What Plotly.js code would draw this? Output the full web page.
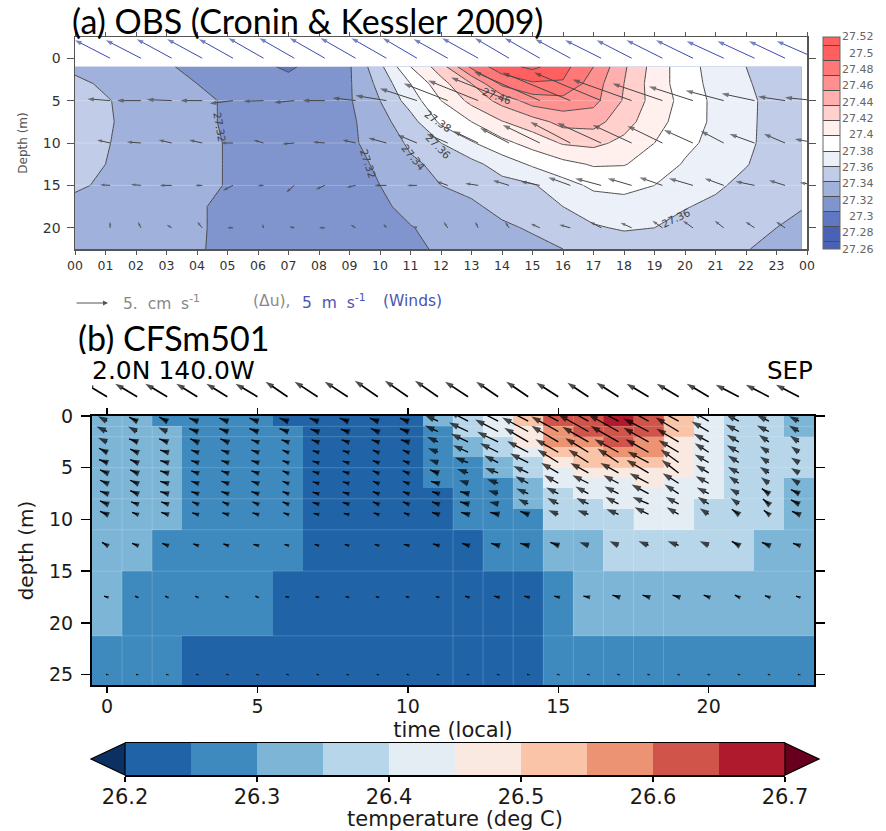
<!DOCTYPE html>
<html><head><meta charset="utf-8">
<script src="https://cdn.plot.ly/plotly-3.0.1.min.js"></script>
<style>html,body{margin:0;padding:0;background:#fff}#chart{width:886px;height:831px}</style>
</head><body><div id="chart"></div>
<script>
const W=886,H=831;
/* ---------- panel (a) data ---------- */
const hoursA=[0,1,2,3,4,5,6,7,8,9,10,11,12,13,14,15,16,17,18,19,20,21,22,23,23.83];
const depthsA=[1,3,5,7.5,10,12.5,15,17.5,20,22.5];
const tempA=[
[27.337,27.332,27.328,27.322,27.315,27.308,27.303,27.298,27.305,27.318,27.355,27.400,27.430,27.485,27.512,27.525,27.507,27.480,27.443,27.412,27.388,27.372,27.360,27.352,27.348],
[27.343,27.338,27.332,27.327,27.320,27.313,27.307,27.304,27.306,27.318,27.346,27.380,27.413,27.440,27.485,27.497,27.498,27.470,27.440,27.410,27.390,27.373,27.362,27.352,27.347],
[27.345,27.341,27.336,27.331,27.324,27.318,27.312,27.309,27.310,27.318,27.340,27.369,27.400,27.426,27.447,27.470,27.473,27.466,27.438,27.412,27.393,27.375,27.365,27.352,27.346],
[27.346,27.342,27.335,27.329,27.324,27.318,27.311,27.308,27.309,27.316,27.333,27.352,27.384,27.400,27.419,27.431,27.447,27.448,27.428,27.408,27.390,27.376,27.364,27.353,27.347],
[27.345,27.341,27.335,27.330,27.325,27.319,27.312,27.309,27.310,27.316,27.329,27.343,27.360,27.378,27.394,27.408,27.422,27.425,27.415,27.400,27.385,27.374,27.364,27.352,27.346],
[27.344,27.340,27.334,27.330,27.325,27.319,27.313,27.309,27.309,27.314,27.323,27.337,27.344,27.354,27.369,27.383,27.394,27.402,27.401,27.392,27.378,27.368,27.361,27.351,27.345],
[27.342,27.338,27.333,27.329,27.325,27.319,27.314,27.310,27.309,27.312,27.320,27.331,27.340,27.345,27.353,27.358,27.372,27.384,27.386,27.380,27.370,27.363,27.355,27.347,27.343],
[27.336,27.333,27.330,27.326,27.322,27.316,27.312,27.310,27.309,27.310,27.316,27.326,27.333,27.337,27.345,27.352,27.360,27.369,27.372,27.368,27.361,27.356,27.349,27.343,27.341],
[27.333,27.331,27.328,27.325,27.322,27.316,27.312,27.310,27.309,27.309,27.313,27.319,27.326,27.332,27.337,27.342,27.350,27.358,27.362,27.360,27.354,27.349,27.345,27.340,27.335],
[27.330,27.329,27.327,27.324,27.322,27.315,27.311,27.309,27.308,27.309,27.312,27.317,27.322,27.326,27.331,27.335,27.340,27.346,27.349,27.349,27.346,27.344,27.341,27.334,27.330]];
const bandColorsA=['#4a62b5','#4a62b5','#5f78c1','#8095ce','#a0b2dc','#c1cde8','#ebf0f9','#ffffff','#fff0ee','#ffd0cc','#ffb0ae','#ff9090','#ff7878','#ff5f5f','#ff5f5f'];
const legendLabelsA=['27.26','27.28','27.3','27.32','27.34','27.36','27.38','27.4','27.42','27.44','27.46','27.48','27.5','27.52'];
const contourLabels=[
 {t:'27.32',h:4.75,d:8.1,a:80},{t:'27.32',h:9.6,d:12.4,a:72},{t:'27.34',h:11.1,d:11.6,a:50},
 {t:'27.36',h:11.9,d:10.4,a:45},{t:'27.38',h:11.9,d:7.4,a:35},{t:'27.46',h:13.85,d:4.4,a:20},{t:'27.36',h:19.7,d:18.9,a:-25}];
const arrowHoursA=[1.15,2.16,3.17,4.17,5.18,6.18,7.19,8.19,9.2,10.21,11.21,12.22,13.22,14.23,15.24,16.24,17.25,18.25,19.26,20.26,21.27,22.28,23.28,24.29];
const arrowDepthsA=[5,10,15,20];
const gridDepthsA=[5,10,15];
/* leftward / upward lengths of the current arrows per depth row */
const curLeftA=[
[22.7,24,25,21.7,23.3,20,20,22,23,31,37,44,50,58,66,68,67,59,50,44,38,33,27,31],
[13,14,13,13,12,10,12,12,13,18,19,21,25,29,37,40,44,39,35,29,23,25,21,21],
[10,10,12,7,10,6,8,9,9,12,10,11,13,16,19,22,26,24,23,24,19,19,16,16],
[0,3,5,5,6,1,5,6,5,3,3,4,3,4,9,11,11,11,10,10,9,9,9,0]];
const curUpA=[
[1.7,0,1,0,-3,-0.7,-2,0,2.7,5,12,17,20,23,29,28,28,21,17,14,10,7,4,3],
[3,1,3,3,0,3,-1,1,3,5,8,9,12,15,18,21,20,18,17,13,12,9,9,4],
[0.7,1,0,0,-5,0,-7,-4,-2,0,0,4,2,5,4,8,7,7,8,7,7,4,5,3],
[6,6,3,6,0,4,1,0,3,4,2,6,6,6,4,3,6,5,7,7,7,6,6,0]];
const windLeftA=[35,35,35,35,34,35,35,35,35,35,34,34,36,34,35,35,36,35,36,37,37,37,36,39];
const windUpA=[18,18,19,19,19,20,20,20,20,20,20,19,20,20,20,19,18,18,18,18,17,17,17,17];

/* ---------- panel (b) data ---------- */
const hourEdgesB=[-0.5,0.5,1.5,2.5,3.5,4.5,5.5,6.5,7.5,8.5,9.5,10.5,11.5,12.5,13.5,14.5,15.5,16.5,17.5,18.5,19.5,20.5,21.5,22.5,23.5];
const depthEdgesB=[0,1,2,3,4,5,6,7,8,9,10,11,15,21.25,26];
const faintHoursB=[0.5,1.5,11.5,12.5,13.5,14.5,15.5,16.5,17.5,18.5];
const faintDepthsB=[1,2,5,8,11,15,21.25];
const binTemps=[26.225,26.275,26.325,26.375,26.425,26.475,26.525,26.575,26.625,26.675];
const binColors=['#2064a7','#3e89bd','#7db5d7','#b7d6e9','#e4edf4','#fae9e1','#f9c4a8','#ec9373','#d0544a','#af1a2c'];
const tempBins=[
[2,2,1,1,1,1,0,0,0,0,0,2,3,4,6,8,8,9,8,6,4,3,3,2],
[2,2,2,1,1,1,1,0,0,0,0,1,3,4,5,7,8,8,8,6,4,3,3,2],
[2,2,2,1,1,1,1,0,0,0,0,1,2,3,5,7,7,8,7,5,4,3,3,3],
[2,2,2,1,1,1,1,0,0,0,0,1,2,3,4,6,6,7,7,5,4,3,3,3],
[2,2,2,1,1,1,1,0,0,0,0,1,1,2,3,5,6,6,6,5,4,3,3,3],
[2,2,2,1,1,1,1,0,0,0,0,1,1,2,3,4,5,5,5,5,4,3,3,3],
[2,2,2,1,1,1,1,0,0,0,0,1,1,1,2,4,4,4,5,4,4,3,3,2],
[2,2,2,1,1,1,1,0,0,0,0,0,1,1,2,3,4,4,4,4,4,3,3,2],
[2,2,2,1,1,1,1,0,0,0,0,0,1,1,2,3,3,4,4,4,3,3,3,2],
[2,2,2,1,1,1,1,0,0,0,0,0,1,1,1,3,3,3,4,4,3,3,3,2],
[2,2,2,1,1,1,1,0,0,0,0,0,1,1,1,3,3,3,4,4,3,3,3,2],
[2,2,1,1,1,1,1,0,0,0,0,0,0,1,1,2,2,3,3,3,3,3,2,2],
[2,1,1,1,1,1,0,0,0,0,0,0,0,0,0,1,2,2,2,2,2,2,2,2],
[1,1,1,0,0,0,0,0,0,0,0,0,0,0,0,1,1,1,1,1,1,1,1,1]];
const hoursB=[0,1,2,3,4,5,6,7,8,9,10,11,12,13,14,15,16,17,18,19,20,21,22,23];
const arrowDepthsB=[0.5,1.5,2.5,3.5,4.5,5.5,6.5,7.5,8.5,9.5,12.5,17.5,25];
const curLeftB=[
[9,8,8,8,8,8,8,8,8,8,8,13,19,23,27,30,31,32,27,24,17,13,12,10],
[10.5,9,9,8,8,8,8,7,7,7,8,13,19,23,26,27,30,30,25,23,17,13,12,10],
[9,8,8,7,7,6,6,6,6,6,7,11,17,21,24,27,26,28,25,22,15,12,10,9],
[8,7,7,6,6,6,5,5,5,5,5,10,15,18,21,23,23,24,23,20,14,12,9,8],
[8,7,7,6,6,6,5,5,5,5,5,9,13,14,18,21,20,21,21,18,14,11,9,8],
[7,7,7,6,6,6,5,5,5,5,5,8,11,13,15,17,18,18,22,17,13,11,9,8],
[7,7,7,6,6,6,5,5,5,5,5,7,9,11,13,14,16,15,19,16,13,10,8,8],
[7,7,7,6,6,6,5,5,5,5,5,6,8,10,12,12,13,14,17,14,12,9,7,8],
[7,6,6,5,5,5,5,5,5,5,5,6,8,9,10,11,12,13,16,13,11,8,6,8],
[7,5,6,5,5,5,4,4,4,4,4,6,7,8,8,10,11,12,14,12,9,7,5,7],
[5,5,5,4,4,4,3,3,3,3,4,5,6,7,8,8,9,9,10,11,9,7,7,6],
[3,2,2,2,2,2,2,2,2,2,2,2,3,4,4,4,5,6,6,6,5,4,4,3],
[1,1,1,1,1,1,1,1,1,1,1,1,1,1,1,1,1,1,1,1,1,1,1,1]];
const curUpB=[
[5,4,4,3,3,3,3,3,3,3,3,6,10,12,14,16,17,17,15,13,10,7,6,5],
[5,5,4,3,3,3,3,2.5,2.5,3,3,6,9,12,14,15,17,17,13,14,10,7,6,6],
[4,3,3,3,3,2,2,2,2,2,2,5,8,10,14,16,15,16,14,13,8,7,7,6],
[4,3,2,2,2,2,2,1.5,1.5,2,2,4,7,9,11,13,14,13,13,12,9,7,6,6],
[3,3,2,2,2,2,2,1.5,1.5,2,2,3,5,7,9,13,13,14,11,13,8,7,6,5],
[3,3,2,2,2,2,2,1.5,1.5,2,2,3,4,5,7,10,10,10,13,13,8,6,6,5],
[3,3,2,2,2,2,2,1.5,1.5,2,2,2,3,4,7,8,8,8,10,10,7,7,6,5],
[2.5,3,2,2,2,2,2,1.5,1.5,2,2,2,2,3,5,6,7,7,9,9,6,5,5,4],
[3,2,2,2,2,2,2,1.5,1.5,2,2,2,2,2,5,6,6,7,7,7,7,6,5,4],
[3,2,2,1.5,1.5,1.5,1.5,1,1,1.5,1.5,2,2,2,3,4,4,5,7,7,6,5,4,3],
[3,2,2,1.5,1.5,1,1,1,1,1,1,1.5,2,2,2,3,3,4,4,4,4,4,3,2],
[1,1,1,1,1,1,0.5,0.5,0.5,0.5,0.5,0.5,1,1,1,1,1,2,2,2,2,2,1.5,1],
[0.3,0.3,0.3,0.3,0.3,0.3,0.3,0.3,0.3,0.3,0.3,0.3,0.3,0.3,0.3,0.3,0.3,0.3,0.3,0.3,0.3,0.3,0.3,0.3]];
const windLeftB=[22,22,22,21,21,22,22,23,23,23,23,23,23,22,22,22,21,22,22,22,22,23,23,23];
const windUpB=[13,13,13,13,13,13,15,15,15,16,16,16,15,15,15,14,14,14,13,13,13,12,12,12];
const cbEdges=[26.2,26.25,26.3,26.35,26.4,26.45,26.5,26.55,26.6,26.65,26.7];
const cbTicks=[26.2,26.3,26.4,26.5,26.6,26.7];
const underColor='#0a3162',overColor='#67001f';

/* ---------- helpers ---------- */
const pxX=(a,b)=>[a/W,b/W], pxY=(top,bot)=>[1-bot/H,1-top/H];
const pA=30.5,pAy=8.47,pB=30.08,pBy=10.35;
function quiver(xAxis,yAxis,rows,sx,sy,color,width,sizeFn,clip){
  const x=[],y=[],size=[];
  rows.forEach(a=>{
    if(!a.l&&!a.u)return;
    x.push(a.x,a.x-a.l/sx,null);
    y.push(a.y,a.y-a.u/sy,null);
    size.push(0,sizeFn(Math.hypot(a.l,a.u)),0);
  });
  return {type:'scatter',mode:'lines+markers',x,y,xaxis:xAxis,yaxis:yAxis,cliponaxis:clip,showlegend:false,hoverinfo:'skip',
    line:{color,width},marker:{symbol:'arrow',angleref:'previous',size,color,line:{width:0}}};
}
const rowsOf=(xs,ds,L,U)=>{const o=[];ds.forEach((d,r)=>xs.forEach((h,c)=>o.push({x:h,y:d,l:L[r][c],u:U[r][c]})));return o;};
const ann=[];
contourLabels.forEach(l=>ann.push({xref:'x',yref:'y',x:l.h,y:l.d,text:l.t,showarrow:false,textangle:l.a,
  font:{family:'DejaVu Sans',size:10.5,color:'#444'}}));
legendLabelsA.forEach((t,i)=>ann.push({xref:'paper',yref:'paper',x:876/W,xanchor:'right',y:1-(249-i*16.31)/H,yanchor:'middle',
  text:t,showarrow:false,font:{family:'DejaVu Sans',size:11,color:'#666'}}));
function label(t,xp,yp,font,anchor,h){const a={xref:'paper',yref:'paper',x:xp/W,y:1-yp/H,xanchor:anchor||'left',yanchor:'middle',text:t,showarrow:false,font:font};if(h)a.height=h;ann.push(a);}
label('(a) OBS (Cronin &amp; Kessler 2009)',70,20,{family:'Lato',size:34,color:'#000'});
label('(b) CFSm501',76,338,{family:'Lato',size:34,color:'#000'},'left',33);
label('2.0N 140.0W',90,370,{family:'DejaVu Sans',size:25,color:'#000'},'left',24);
label('SEP',815,370,{family:'DejaVu Sans',size:24.5,color:'#000'},'right',24);
const capG={family:'DejaVu Sans',size:15.5,color:'#888'},capB={family:'DejaVu Sans',size:15.5,color:'#4a55b0'};
label('5.\u00a0\u00a0cm\u00a0\u00a0s<sup>-1</sup>',121,302,capG);
label('(Δu),',251,301,capG);
label('5\u00a0\u00a0m\u00a0\u00a0s<sup>-1</sup>',300,301,capB);
label('(Winds)',381,301,capB);
ann.push({xref:'paper',yref:'paper',x:108/W,y:1-303/H,ax:-33,ay:0,text:'',showarrow:true,arrowhead:2,arrowsize:1,arrowwidth:1,arrowcolor:'#555',standoff:0});

const stepScale=[];binColors.forEach((c,i)=>{stepScale.push([i/10,c]);stepScale.push([(i+1)/10,c]);});
const contourScale=bandColorsA.map((c,i)=>[i/14,c]);
const zB=tempBins.map(r=>r.map(i=>binTemps[i]));
const faint=(xs,ys)=>{const x=[],y=[];xs.forEach(v=>{x.push(v,v,null);y.push(ys[0],ys[1],null);});return [x,y];};
const [vx,vy]=faint(faintHoursB,[0,26]);
const [hy,hx]=faint(faintDepthsB,[-0.5,23.5]);
const [hya,hxa]=faint(gridDepthsA,[0,23.83]);

const traces=[
 {type:'contour',x:hoursA,y:depthsA,z:tempA,xaxis:'x',yaxis:'y',autocontour:false,
  contours:{start:27.26,end:27.52,size:0.02,coloring:'fill',showlines:true},
  line:{color:'#4d4d4d',width:1,smoothing:0},colorscale:contourScale,hoverinfo:'skip',
  colorbar:{x:823/W,xanchor:'left',xpad:0,ypad:0,thickness:17,thicknessmode:'pixels',len:212/H,lenmode:'fraction',y:1-249/H,yanchor:'bottom',
    outlinecolor:'#666',outlinewidth:1,showticklabels:false,ticks:''}},
 {type:'scatter',mode:'lines',x:hxa,y:hya,xaxis:'x',yaxis:'y',line:{color:'rgba(255,255,255,0.25)',width:1},showlegend:false,hoverinfo:'skip'},
 quiver('x','y',rowsOf(arrowHoursA,arrowDepthsA,curLeftA,curUpA),pA,pAy,'#454545',1,m=>Math.min(7.5,3+m/6),false),
 quiver('x','y',arrowHoursA.map((h,c)=>({x:h,y:0,l:windLeftA[c],u:windUpA[c]})),pA,pAy,'#3c4bb0',1,()=>7,false),
 {type:'heatmap',x:hourEdgesB,y:depthEdgesB,z:zB,xaxis:'x2',yaxis:'y2',zmin:26.2,zmax:26.7,colorscale:stepScale,showscale:false,hoverinfo:'skip'},
 {type:'scatter',mode:'lines',x:vx.concat(hx),y:vy.concat(hy),xaxis:'x2',yaxis:'y2',line:{color:'rgba(255,255,255,0.18)',width:1},showlegend:false,hoverinfo:'skip'},
 quiver('x2','y2',rowsOf(hoursB,arrowDepthsB,curLeftB,curUpB),pB,pBy,'#000',1.3,m=>Math.min(10,1.5+m*1.1),true),
 quiver('x3','y3',hoursB.map((h,c)=>({x:h,y:3.3,l:windLeftB[c],u:windUpB[c]})),pB,-1,'#000',1.7,()=>9,true),
 {type:'heatmap',x:cbEdges,y:[0,1],z:[binTemps],xaxis:'x4',yaxis:'y4',zmin:26.2,zmax:26.7,colorscale:stepScale,showscale:false,hoverinfo:'skip'}
];
const aFont={family:'DejaVu Sans',size:12.5,color:'#333'};
const bFont={family:'DejaVu Sans',size:19,color:'#1a1a1a'};
const bigFont={family:'DejaVu Sans',size:21,color:'#1a1a1a'};
const hourLabelsA=['00','01','02','03','04','05','06','07','08','09','10','11','12','13','14','15','16','17','18','19','20','21','22','23','00'];
const hourTicksA=[0,1,2,3,4,5,6,7,8,9,10,11,12,13,14,15,16,17,18,19,20,21,22,23,24];
const layout={width:W,height:H,margin:{l:0,r:0,t:0,b:0},paper_bgcolor:'#fff',plot_bgcolor:'#fff',showlegend:false,
 font:{family:'DejaVu Sans'},
 xaxis:{domain:pxX(75,807),range:[0,24],anchor:'y',tickmode:'array',tickvals:hourTicksA,ticktext:hourLabelsA,tickfont:aFont,tickangle:0,
   ticks:'outside',ticklen:4,tickwidth:1,tickcolor:'#555',showline:true,linecolor:'#555',linewidth:1.5,mirror:'allticks',showgrid:false,zeroline:false},
 yaxis:{domain:pxY(37,249),range:[22.5,-2.5],anchor:'x',tickmode:'array',tickvals:[0,5,10,15,20],tickfont:{family:'DejaVu Sans',size:14,color:'#333'},
   ticks:'outside',ticklen:7,tickwidth:1,tickcolor:'#555',showline:true,linecolor:'#555',linewidth:1.5,mirror:'allticks',showgrid:false,zeroline:false,
   ticklabelstandoff:3,title:{text:'Depth (m)',font:{family:'DejaVu Sans',size:12,color:'#555'},standoff:12}},
 xaxis2:{domain:pxX(92,814),range:[-0.5,23.5],anchor:'y2',tickmode:'array',tickvals:[0,5,10,15,20],tickfont:bFont,
   ticks:'outside',ticklen:6,tickwidth:1.5,tickcolor:'#000',showline:true,linecolor:'#000',linewidth:2,mirror:'allticks',showgrid:false,zeroline:false,
   ticklabelstandoff:-3,title:{text:'time (local)',font:bigFont,standoff:7}},
 yaxis2:{domain:pxY(416,685),range:[26,0],anchor:'x2',tickmode:'array',tickvals:[0,5,10,15,20,25],tickfont:bFont,
   ticks:'outside',ticklen:9,tickwidth:1.5,tickcolor:'#000',showline:true,linecolor:'#000',linewidth:2,mirror:'allticks',showgrid:false,zeroline:false,
   ticklabelstandoff:4,title:{text:'depth (m)',font:{family:'DejaVu Sans',size:20,color:'#1a1a1a'},standoff:10}},
 xaxis3:{domain:pxX(92,814),range:[-0.5,23.5],anchor:'y3',visible:false,fixedrange:true},
 yaxis3:{domain:pxY(372,400),range:[0,28],anchor:'x3',visible:false,fixedrange:true},
 xaxis4:{domain:pxX(125,785),range:[26.2,26.7],anchor:'y4',tickmode:'array',tickvals:cbTicks,ticktext:['26.2','26.3','26.4','26.5','26.6','26.7'],tickfont:bigFont,
   ticks:'outside',ticklen:5,tickwidth:1.5,tickcolor:'#000',showline:true,linecolor:'#000',linewidth:1.5,mirror:true,showgrid:false,zeroline:false,
   ticklabelstandoff:-3,title:{text:'temperature (deg C)',font:bigFont,standoff:8}},
 yaxis4:{domain:pxY(743,775),range:[0,1],anchor:'x4',visible:false,fixedrange:true},
 shapes:[
  {type:'path',xref:'paper',yref:'paper',path:`M ${125/W} ${1-743/H} L ${91/W} ${1-759/H} L ${125/W} ${1-775/H} Z`,fillcolor:underColor,line:{color:'#000',width:1.2}},
  {type:'path',xref:'paper',yref:'paper',path:`M ${785/W} ${1-743/H} L ${819/W} ${1-759/H} L ${785/W} ${1-775/H} Z`,fillcolor:overColor,line:{color:'#000',width:1.2}}
 ],
 annotations:ann
};
Plotly.newPlot('chart',traces,layout,{displayModeBar:false,staticPlot:true});
</script></body></html>
